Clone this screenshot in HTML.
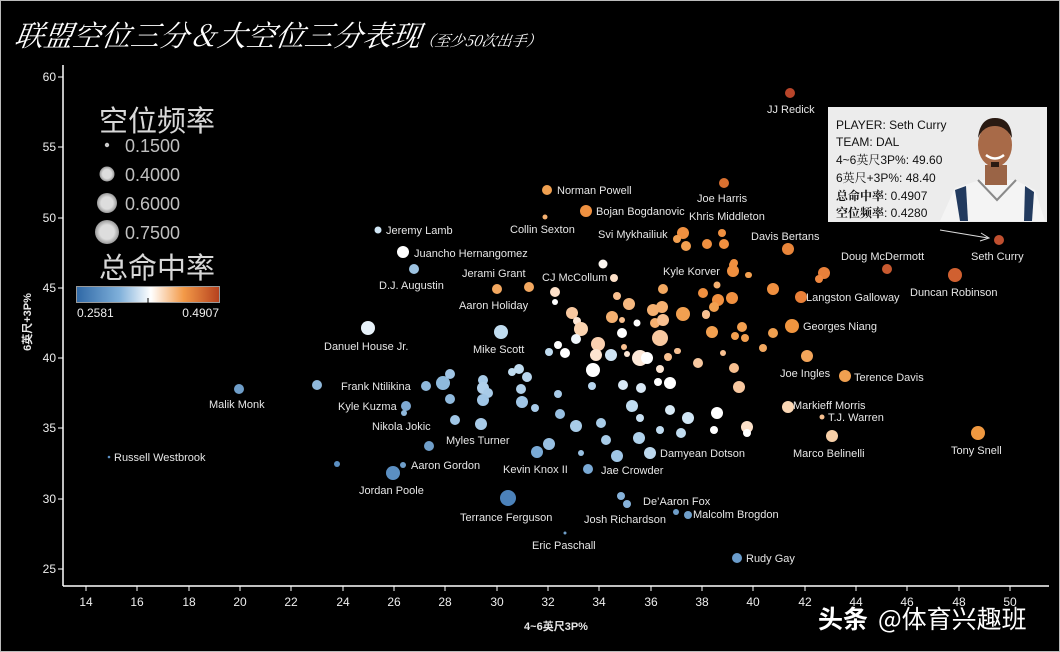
<!DOCTYPE html>
<html><head><meta charset="utf-8"><style>
html,body{margin:0;padding:0;background:#000;}
svg{display:block;}
.l{font-family:"Liberation Sans","Noto Sans CJK SC",sans-serif;font-size:11px;fill:#e6e6e6;}
.t{font-family:"Liberation Sans","Noto Sans CJK SC",sans-serif;font-size:12px;fill:#eee;}
</style></head><body>
<svg width="1060" height="652" xmlns="http://www.w3.org/2000/svg">
<defs>
<linearGradient id="cb" x1="0" x2="1" y1="0" y2="0">
<stop offset="0" stop-color="#2f68a6"/><stop offset="0.3" stop-color="#7fb0da"/><stop offset="0.52" stop-color="#ffffff"/><stop offset="0.75" stop-color="#f39a48"/><stop offset="1" stop-color="#b5401d"/>
</linearGradient>
<radialGradient id="lg"><stop offset="0.6" stop-color="#ddd"/><stop offset="1" stop-color="#999"/></radialGradient>
</defs>
<rect x="0" y="0" width="1060" height="652" fill="#000"/>
<rect x="0.5" y="0.5" width="1059" height="651" fill="none" stroke="#bbb" stroke-width="1"/>
<text x="14" y="46" fill="#fff" font-family="'Noto Serif CJK SC',serif" font-size="29" font-style="italic" transform="skewX(-8) translate(6,0)">联盟空位三分＆大空位三分表现<tspan font-size="15">（至少50次出手）</tspan></text>

<!-- axes -->
<g stroke="#fff" stroke-width="1.5" fill="none">
<line x1="63" y1="65" x2="63" y2="586"/>
<line x1="63" y1="586" x2="1049" y2="586"/>
</g>
<g stroke="#fff" stroke-width="1">
<line x1="58" y1="77" x2="63" y2="77"/><line x1="58" y1="147" x2="63" y2="147"/><line x1="58" y1="218" x2="63" y2="218"/><line x1="58" y1="288" x2="63" y2="288"/><line x1="58" y1="358" x2="63" y2="358"/><line x1="58" y1="428" x2="63" y2="428"/><line x1="58" y1="499" x2="63" y2="499"/><line x1="58" y1="569" x2="63" y2="569"/>
</g>
<g class="t" text-anchor="end">
<text x="56" y="81">60</text><text x="56" y="151">55</text><text x="56" y="222">50</text><text x="56" y="292">45</text><text x="56" y="362">40</text><text x="56" y="432">35</text><text x="56" y="503">30</text><text x="56" y="573">25</text>
</g>
<g stroke="#fff" stroke-width="1">
<line x1="86" y1="586" x2="86" y2="591"/><line x1="137" y1="586" x2="137" y2="591"/><line x1="189" y1="586" x2="189" y2="591"/><line x1="240" y1="586" x2="240" y2="591"/><line x1="291" y1="586" x2="291" y2="591"/><line x1="343" y1="586" x2="343" y2="591"/><line x1="394" y1="586" x2="394" y2="591"/><line x1="445" y1="586" x2="445" y2="591"/><line x1="497" y1="586" x2="497" y2="591"/><line x1="548" y1="586" x2="548" y2="591"/><line x1="599" y1="586" x2="599" y2="591"/><line x1="651" y1="586" x2="651" y2="591"/><line x1="702" y1="586" x2="702" y2="591"/><line x1="753" y1="586" x2="753" y2="591"/><line x1="805" y1="586" x2="805" y2="591"/><line x1="856" y1="586" x2="856" y2="591"/><line x1="907" y1="586" x2="907" y2="591"/><line x1="959" y1="586" x2="959" y2="591"/><line x1="1010" y1="586" x2="1010" y2="591"/>
</g>
<g class="t" text-anchor="middle">
<text x="86" y="606">14</text><text x="137" y="606">16</text><text x="189" y="606">18</text><text x="240" y="606">20</text><text x="291" y="606">22</text><text x="343" y="606">24</text><text x="394" y="606">26</text><text x="445" y="606">28</text><text x="497" y="606">30</text><text x="548" y="606">32</text><text x="599" y="606">34</text><text x="651" y="606">36</text><text x="702" y="606">38</text><text x="753" y="606">40</text><text x="805" y="606">42</text><text x="856" y="606">44</text><text x="907" y="606">46</text><text x="959" y="606">48</text><text x="1010" y="606">50</text>
</g>
<text x="556" y="630" text-anchor="middle" class="l" font-weight="bold" style="font-size:11px">4~6英尺3P%</text>
<text transform="translate(31,322) rotate(-90)" text-anchor="middle" class="l" font-weight="bold" style="font-size:11px">6英尺+3P%</text>

<!-- legend -->
<g font-family="'Noto Sans CJK SC',sans-serif" fill="#d8d8d8">
<text x="99" y="131" font-size="29">空位频率</text>
<text x="99" y="278" font-size="29">总命中率</text>
</g>
<circle cx="107" cy="145" r="2.2" fill="#ccc"/>
<circle cx="107" cy="174" r="7.5" fill="url(#lg)"/>
<circle cx="107" cy="203" r="10" fill="url(#lg)"/>
<circle cx="107" cy="232" r="12" fill="url(#lg)"/>
<g font-family="'Liberation Sans',sans-serif" font-size="18" fill="#c0c0c0">
<text x="125" y="152">0.1500</text><text x="125" y="181">0.4000</text><text x="125" y="210">0.6000</text><text x="125" y="239">0.7500</text>
</g>
<rect x="76.5" y="286.5" width="143" height="16" fill="url(#cb)" stroke="#999"/>
<line x1="148" y1="298" x2="148" y2="303" stroke="#000"/>
<text x="77" y="317" class="t">0.2581</text>
<text x="219" y="317" class="t" text-anchor="end">0.4907</text>

<!-- points -->
<g>
<circle cx="790" cy="93" r="5" fill="#b8452a"/>
<circle cx="999" cy="240" r="5" fill="#c05030"/>
<circle cx="887" cy="269" r="5" fill="#c85a30"/>
<circle cx="955" cy="275" r="7" fill="#d06030"/>
<circle cx="724" cy="183" r="5" fill="#d97030"/>
<circle cx="788" cy="249" r="6" fill="#e8853a"/>
<circle cx="547" cy="190" r="5" fill="#f0a050"/>
<circle cx="586" cy="211" r="6" fill="#ee9040"/>
<circle cx="545" cy="217" r="2.5" fill="#f5b070"/>
<circle cx="378" cy="230" r="3.5" fill="#d0e6f5"/>
<circle cx="403" cy="252" r="6" fill="#fff"/>
<circle cx="414" cy="269" r="5" fill="#9dc3e2"/>
<circle cx="497" cy="289" r="5" fill="#f3a860"/>
<circle cx="529" cy="287" r="5" fill="#f3a860"/>
<circle cx="603" cy="264" r="4.5" fill="#fbf6f0"/>
<circle cx="614" cy="278" r="4" fill="#fde0c8"/>
<circle cx="555" cy="292" r="5" fill="#fde0c8"/>
<circle cx="555" cy="302" r="3" fill="#fff"/>
<circle cx="683" cy="233" r="6" fill="#f09040"/>
<circle cx="677" cy="239" r="4" fill="#f3a050"/>
<circle cx="686" cy="246" r="5" fill="#f3a050"/>
<circle cx="707" cy="244" r="5" fill="#f09040"/>
<circle cx="722" cy="233" r="4" fill="#f09040"/>
<circle cx="724" cy="244" r="5" fill="#f09040"/>
<circle cx="824" cy="273" r="6" fill="#e8803a"/>
<circle cx="819" cy="279" r="4" fill="#f08840"/>
<circle cx="734" cy="263" r="4" fill="#f09040"/>
<circle cx="733" cy="271" r="6" fill="#f09040"/>
<circle cx="748" cy="275" r="3" fill="#f3a050"/>
<circle cx="663" cy="289" r="5" fill="#f3a860"/>
<circle cx="703" cy="293" r="5" fill="#f09040"/>
<circle cx="717" cy="285" r="3.5" fill="#f5b070"/>
<circle cx="718" cy="300" r="6" fill="#f09040"/>
<circle cx="714" cy="307" r="5" fill="#f0a050"/>
<circle cx="732" cy="298" r="6" fill="#f09040"/>
<circle cx="773" cy="289" r="6" fill="#f09040"/>
<circle cx="801" cy="297" r="6" fill="#e98038"/>
<circle cx="653" cy="310" r="6" fill="#f5b070"/>
<circle cx="662" cy="307" r="6" fill="#f5b070"/>
<circle cx="655" cy="323" r="5" fill="#f5b070"/>
<circle cx="663" cy="320" r="6" fill="#f8c090"/>
<circle cx="683" cy="314" r="7" fill="#f2a050"/>
<circle cx="706" cy="314" r="4" fill="#f8c8a0"/>
<circle cx="712" cy="332" r="6" fill="#f3a050"/>
<circle cx="742" cy="327" r="5" fill="#f3a050"/>
<circle cx="735" cy="336" r="4" fill="#f3a050"/>
<circle cx="745" cy="338" r="4" fill="#f3a050"/>
<circle cx="773" cy="333" r="5" fill="#f0a050"/>
<circle cx="792" cy="326" r="7" fill="#f0953f"/>
<circle cx="660" cy="338" r="8" fill="#f8c8a0"/>
<circle cx="677" cy="351" r="3" fill="#f8c8a0"/>
<circle cx="763" cy="348" r="4" fill="#f3a860"/>
<circle cx="807" cy="356" r="6" fill="#f3a55a"/>
<circle cx="723" cy="353" r="3" fill="#f8c090"/>
<circle cx="629" cy="304" r="6" fill="#f5b880"/>
<circle cx="617" cy="296" r="4" fill="#f8c090"/>
<circle cx="572" cy="313" r="6" fill="#f8c8a0"/>
<circle cx="577" cy="321" r="4" fill="#fde6d4"/>
<circle cx="581" cy="329" r="7" fill="#fad3b0"/>
<circle cx="576" cy="339" r="5" fill="#f0f6fb"/>
<circle cx="612" cy="317" r="6" fill="#f4b070"/>
<circle cx="622" cy="320" r="3" fill="#f8c090"/>
<circle cx="637" cy="323" r="3.5" fill="#fff"/>
<circle cx="706" cy="315" r="4" fill="#f8c090"/>
<circle cx="622" cy="333" r="5" fill="#fff"/>
<circle cx="598" cy="344" r="7" fill="#fad0b0"/>
<circle cx="596" cy="355" r="6" fill="#fde4d0"/>
<circle cx="611" cy="355" r="6" fill="#cfe4f4"/>
<circle cx="624" cy="347" r="3" fill="#f8c090"/>
<circle cx="627" cy="354" r="3" fill="#fde6d4"/>
<circle cx="640" cy="358" r="8" fill="#fde8d8"/>
<circle cx="647" cy="358" r="6" fill="#fff"/>
<circle cx="593" cy="370" r="7" fill="#fff"/>
<circle cx="668" cy="357" r="4" fill="#f8c090"/>
<circle cx="678" cy="351" r="3" fill="#f8c090"/>
<circle cx="698" cy="363" r="5" fill="#f8c8a0"/>
<circle cx="660" cy="369" r="4" fill="#fde6d4"/>
<circle cx="658" cy="382" r="4" fill="#fff"/>
<circle cx="670" cy="383" r="6" fill="#fff"/>
<circle cx="623" cy="385" r="5" fill="#d8e8f5"/>
<circle cx="641" cy="388" r="5" fill="#d8e8f5"/>
<circle cx="592" cy="386" r="4" fill="#b8d6ee"/>
<circle cx="558" cy="394" r="4" fill="#a8cbe8"/>
<circle cx="521" cy="389" r="5" fill="#b0d0ea"/>
<circle cx="522" cy="402" r="6" fill="#a0c6e6"/>
<circle cx="535" cy="408" r="4" fill="#a8cbe8"/>
<circle cx="560" cy="414" r="5" fill="#98c0e2"/>
<circle cx="576" cy="426" r="6" fill="#a8cce8"/>
<circle cx="601" cy="423" r="5" fill="#a8cce8"/>
<circle cx="632" cy="406" r="6" fill="#c0dcf0"/>
<circle cx="640" cy="418" r="4" fill="#c8e0f2"/>
<circle cx="670" cy="410" r="5" fill="#d8eaf6"/>
<circle cx="688" cy="418" r="6" fill="#d0e6f5"/>
<circle cx="717" cy="413" r="6" fill="#fff"/>
<circle cx="714" cy="430" r="4" fill="#fff"/>
<circle cx="747" cy="427" r="6" fill="#fbe0c8"/>
<circle cx="747" cy="433" r="4" fill="#fff"/>
<circle cx="660" cy="430" r="4" fill="#c0dcf0"/>
<circle cx="681" cy="433" r="5" fill="#c0dcf0"/>
<circle cx="734" cy="368" r="5" fill="#f8c090"/>
<circle cx="739" cy="387" r="6" fill="#f8c8a0"/>
<circle cx="749" cy="275" r="3" fill="#f3a050"/>
<circle cx="733" cy="265" r="4" fill="#f09040"/>
<circle cx="501" cy="332" r="7" fill="#c0dcf0"/>
<circle cx="368" cy="328" r="7" fill="#e8f2fa"/>
<circle cx="549" cy="352" r="4" fill="#c0dcf0"/>
<circle cx="558" cy="345" r="4" fill="#fff"/>
<circle cx="565" cy="353" r="5" fill="#fff"/>
<circle cx="512" cy="372" r="4" fill="#c0dcf0"/>
<circle cx="519" cy="369" r="5" fill="#c0dcf0"/>
<circle cx="527" cy="377" r="5" fill="#b8d6ee"/>
<circle cx="483" cy="380" r="5" fill="#a8cbe8"/>
<circle cx="483" cy="388" r="6" fill="#b0d0ea"/>
<circle cx="488" cy="393" r="5" fill="#a8cbe8"/>
<circle cx="483" cy="400" r="6" fill="#a0c6e6"/>
<circle cx="537" cy="452" r="6" fill="#7aaad6"/>
<circle cx="549" cy="444" r="6" fill="#98c0e2"/>
<circle cx="581" cy="453" r="3" fill="#98c0e2"/>
<circle cx="617" cy="456" r="6" fill="#a0c6e6"/>
<circle cx="606" cy="440" r="5" fill="#a8cce8"/>
<circle cx="639" cy="438" r="6" fill="#b0d2ec"/>
<circle cx="650" cy="453" r="6" fill="#bcd8ee"/>
<circle cx="588" cy="469" r="5" fill="#7aaad6"/>
<circle cx="239" cy="389" r="5" fill="#6f9ec9"/>
<circle cx="317" cy="385" r="5" fill="#8fb8db"/>
<circle cx="426" cy="386" r="5" fill="#8fb8db"/>
<circle cx="443" cy="383" r="7" fill="#8fbadc"/>
<circle cx="450" cy="374" r="5" fill="#a0c4e4"/>
<circle cx="450" cy="399" r="5" fill="#90bade"/>
<circle cx="406" cy="406" r="5" fill="#7fa9d2"/>
<circle cx="404" cy="413" r="3" fill="#8fb8db"/>
<circle cx="455" cy="420" r="5" fill="#a0c6e6"/>
<circle cx="481" cy="424" r="6" fill="#a8cbe8"/>
<circle cx="429" cy="446" r="5" fill="#6f9ec9"/>
<circle cx="337" cy="464" r="3" fill="#5b8fc2"/>
<circle cx="403" cy="465" r="3" fill="#6f9ec9"/>
<circle cx="393" cy="473" r="7" fill="#5b8fc2"/>
<circle cx="109" cy="457" r="1.3" fill="#5b8fc2"/>
<circle cx="508" cy="498" r="8" fill="#4c82ba"/>
<circle cx="621" cy="496" r="4" fill="#86b2da"/>
<circle cx="627" cy="504" r="4" fill="#86b2da"/>
<circle cx="676" cy="512" r="3" fill="#6f9ec9"/>
<circle cx="688" cy="515" r="4" fill="#6f9ec9"/>
<circle cx="565" cy="533" r="1.5" fill="#6f9ec9"/>
<circle cx="737" cy="558" r="5" fill="#6a9ccb"/>
<circle cx="978" cy="433" r="7" fill="#ef9840"/>
<circle cx="845" cy="376" r="6" fill="#f0a050"/>
<circle cx="788" cy="407" r="6" fill="#fad7b5"/>
<circle cx="822" cy="417" r="2.5" fill="#f7c090"/>
<circle cx="832" cy="436" r="6" fill="#f8d0a8"/>
</g>

<!-- labels -->
<g class="l">
<text x="767" y="113">JJ Redick</text>
<text x="697" y="202">Joe Harris</text>
<text x="689" y="220">Khris Middleton</text>
<text x="751" y="240">Davis Bertans</text>
<text x="841" y="260">Doug McDermott</text>
<text x="971" y="260">Seth Curry</text>
<text x="910" y="296">Duncan Robinson</text>
<text x="806" y="301">Langston Galloway</text>
<text x="803" y="330">Georges Niang</text>
<text x="663" y="275">Kyle Korver</text>
<text x="557" y="194">Norman Powell</text>
<text x="596" y="215">Bojan Bogdanovic</text>
<text x="598" y="238">Svi Mykhailiuk</text>
<text x="510" y="233">Collin Sexton</text>
<text x="386" y="234">Jeremy Lamb</text>
<text x="414" y="257">Juancho Hernangomez</text>
<text x="379" y="289">D.J. Augustin</text>
<text x="462" y="277">Jerami Grant</text>
<text x="542" y="281">CJ McCollum</text>
<text x="459" y="309">Aaron Holiday</text>
<text x="324" y="350">Danuel House Jr.</text>
<text x="473" y="353">Mike Scott</text>
<text x="780" y="377">Joe Ingles</text>
<text x="854" y="381">Terence Davis</text>
<text x="793" y="409">Markieff Morris</text>
<text x="828" y="421">T.J. Warren</text>
<text x="793" y="457">Marco Belinelli</text>
<text x="951" y="454">Tony Snell</text>
<text x="209" y="408">Malik Monk</text>
<text x="341" y="390">Frank Ntilikina</text>
<text x="338" y="410">Kyle Kuzma</text>
<text x="372" y="430">Nikola Jokic</text>
<text x="446" y="444">Myles Turner</text>
<text x="114" y="461">Russell Westbrook</text>
<text x="411" y="469">Aaron Gordon</text>
<text x="503" y="473">Kevin Knox II</text>
<text x="601" y="474">Jae Crowder</text>
<text x="660" y="457">Damyean Dotson</text>
<text x="359" y="494">Jordan Poole</text>
<text x="460" y="521">Terrance Ferguson</text>
<text x="643" y="505">De’Aaron Fox</text>
<text x="584" y="523">Josh Richardson</text>
<text x="693" y="518">Malcolm Brogdon</text>
<text x="532" y="549">Eric Paschall</text>
<text x="746" y="562">Rudy Gay</text>
</g>

<!-- tooltip -->
<rect x="828" y="107" width="219" height="115" fill="#ececec"/>
<g font-family="'Liberation Sans','Noto Serif CJK SC',sans-serif" font-size="12" fill="#111">
<text x="836" y="129">PLAYER: Seth Curry</text>
<text x="836" y="146">TEAM: DAL</text>
<text x="836" y="164">4~6英尺3P%: 49.60</text>
<text x="836" y="182">6英尺+3P%: 48.40</text>
<text x="836" y="200" font-weight="bold">总命中率<tspan font-weight="normal">: 0.4907</tspan></text>
<text x="836" y="217" font-weight="bold">空位频率<tspan font-weight="normal">: 0.4280</tspan></text>
</g>
<path d="M940 221 L955 188 L980 180 L1015 180 L1035 190 L1045 221 Z" fill="#f4f4f4"/>
<path d="M955 190 L960 221 L968 221 L966 186 Z" fill="#223a5e"/>
<path d="M1025 186 L1024 221 L1032 221 L1034 192 Z" fill="#223a5e"/>
<path d="M978 180 L997 200 L1016 180" fill="none" stroke="#8a8a8a" stroke-width="2"/>
<rect x="985" y="165" width="22" height="20" fill="#9a6446"/>
<ellipse cx="995" cy="145" rx="17" ry="22" fill="#a86a48"/>
<path d="M978 138 Q980 118 995 118 Q1011 118 1012 138 Q1006 126 995 126 Q983 126 978 138Z" fill="#2a1a12"/>
<path d="M986 155 Q995 162 1004 155" stroke="#fff" stroke-width="2.5" fill="none"/>
<rect x="991" y="162" width="8" height="5" fill="#2a1a12"/>
<line x1="940" y1="230" x2="988" y2="238" stroke="#ddd" stroke-width="1"/>
<path d="M981 233 L989 238 L980 241" stroke="#ddd" fill="none"/>

<!-- watermark -->
<text x="818" y="628" fill="#fff" font-family="'Noto Sans CJK SC',sans-serif" font-size="25" font-weight="bold">头条</text>
<text x="878" y="628" fill="#fff" font-family="'Noto Sans CJK SC',sans-serif" font-size="25">@体育兴趣班</text>
</svg>
</body></html>
